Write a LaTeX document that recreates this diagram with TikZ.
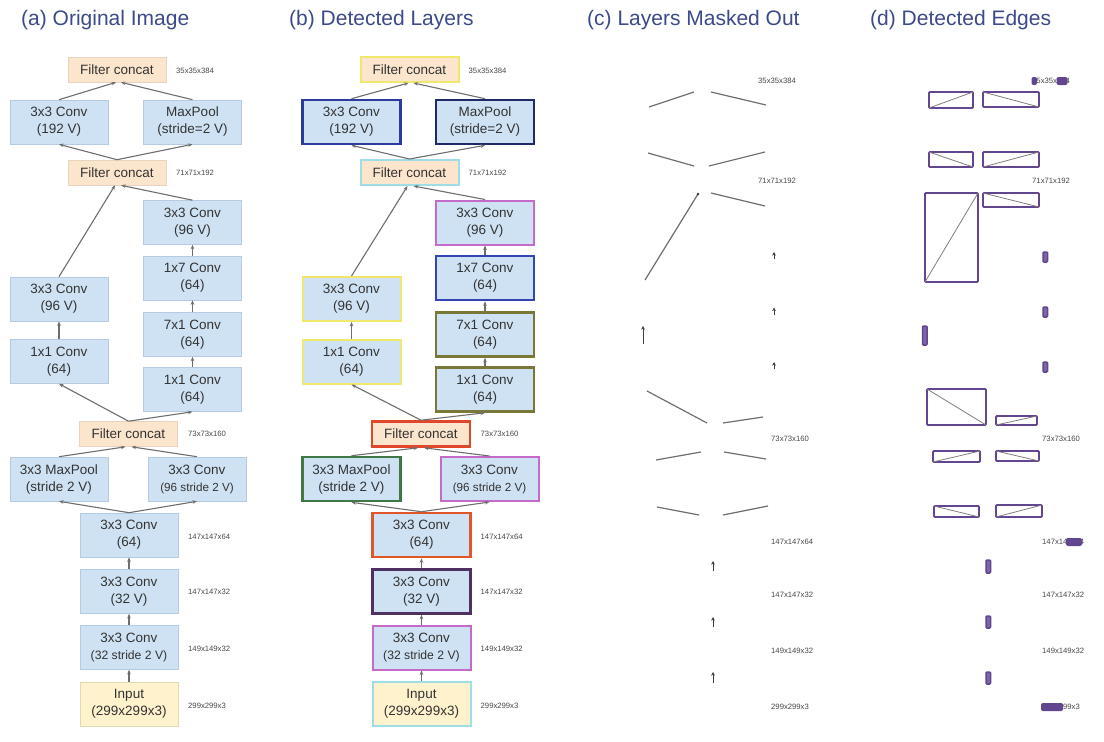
\documentclass[tikz,border=0pt]{standalone}
\usepackage{fontspec}
\setmainfont{Liberation Sans}
\usetikzlibrary{arrows.meta}
\definecolor{titlec}{HTML}{3C4A8A}
\definecolor{txt}{HTML}{333333}
\definecolor{convfill}{HTML}{CFE2F3}
\definecolor{convdraw}{HTML}{B5CBE2}
\definecolor{catfill}{HTML}{FCE5CD}
\definecolor{catdraw}{HTML}{E8D3BC}
\definecolor{inpfill}{HTML}{FFF2CC}
\definecolor{inpdraw}{HTML}{E2D9B5}
\definecolor{edgec}{HTML}{6E6E6E}
\definecolor{labc}{HTML}{484848}
\definecolor{purp}{HTML}{62468F}
\definecolor{purpfill}{HTML}{7D66A8}
\definecolor{diagc}{HTML}{857A80}
\definecolor{bY}{HTML}{F0E86A}
\definecolor{bBlue}{HTML}{2C3B9C}
\definecolor{bNavy}{HTML}{1F2A66}
\definecolor{bCyan}{HTML}{9EDCE6}
\definecolor{bMag}{HTML}{C46AC8}
\definecolor{bBlueB}{HTML}{3444B2}
\definecolor{bOlive}{HTML}{7A7838}
\definecolor{bRed}{HTML}{E0472A}
\definecolor{bGreen}{HTML}{3F7844}
\definecolor{bOrange}{HTML}{E0562A}
\definecolor{bPurp}{HTML}{4F3062}
\tikzset{
  cv/.style={rectangle, minimum width=98pt, minimum height=44pt, inner sep=0pt,
    align=center, font=\fontsize{13.5}{17}\selectfont, text=txt,
    fill=convfill, draw=convdraw, line width=0.6pt},
  cat/.style={cv, minimum height=25pt, fill=catfill, draw=catdraw},
  inpbox/.style={cv, fill=inpfill, draw=inpdraw},
  edge/.style={draw=edgec, line width=1.1pt, -{Stealth[length=4.5pt,width=3.6pt]}},
  lab/.style={anchor=west, font=\fontsize{7.7}{9}\selectfont, text=labc, inner sep=0pt},
  ttl/.style={anchor=base west, font=\fontsize{21}{25}\selectfont, text=titlec, inner sep=0pt},
  mline/.style={draw=edgec, line width=1.2pt},
  marr/.style={draw=black!75, line width=0.9pt, -{Stealth[length=3.6pt,width=3.6pt]}},
  prect/.style={draw=purp, line width=1.8pt, rounded corners=1pt},
  pdiag/.style={draw=diagc, line width=0.8pt},
  psmall/.style={draw=purp, fill=purpfill, line width=1.5pt, rounded corners=1pt},
  blob/.style={fill=purp, rounded corners=2pt},
  s-fcT/.style={}, s-c192/.style={}, s-mp/.style={}, s-fcM/.style={},
  s-c96R/.style={}, s-c17/.style={}, s-c71/.style={}, s-c11R/.style={},
  s-c96L/.style={}, s-c11L/.style={}, s-fcL/.style={}, s-mp3/.style={},
  s-c96s/.style={}, s-c64/.style={}, s-c32/.style={}, s-c32s/.style={},
  s-inp/.style={}
}
\newcommand{\drawnet}[1]{%
  \node[cat, s-fcT] (#1fcT) at (117,69.5) {Filter concat};
  \node[cv, s-c192] (#1c192) at (59,122) {3x3 Conv\\(192 V)};
  \node[cv, s-mp] (#1mp) at (192.5,122) {MaxPool\\(stride=2 V)};
  \node[cat, s-fcM] (#1fcM) at (117,172.5) {Filter concat};
  \node[cv, s-c96R] (#1c96R) at (192.5,222.5) {3x3 Conv\\(96 V)};
  \node[cv, s-c17] (#1c17) at (192.5,278) {1x7 Conv\\(64)};
  \node[cv, s-c71] (#1c71) at (192.5,334.5) {7x1 Conv\\(64)};
  \node[cv, s-c11R] (#1c11R) at (192.5,389.5) {1x1 Conv\\(64)};
  \node[cv, s-c96L] (#1c96L) at (59,299) {3x3 Conv\\(96 V)};
  \node[cv, s-c11L] (#1c11L) at (59,361.5) {1x1 Conv\\(64)};
  \node[cat, s-fcL] (#1fcL) at (128.5,434) {Filter concat};
  \node[cv, s-mp3] (#1mp3) at (59,479) {3x3 MaxPool\\(stride 2 V)};
  \node[cv, s-c96s] (#1c96s) at (197,479) {3x3 Conv\\{\fontsize{11.7}{14}\selectfont(96 stride 2 V)}};
  \node[cv, s-c64] (#1c64) at (129,535) {3x3 Conv\\(64)};
  \node[cv, s-c32] (#1c32) at (129,591.5) {3x3 Conv\\(32 V)};
  \node[cv, s-c32s] (#1c32s) at (129,647.5) {3x3 Conv\\{\fontsize{12.2}{14}\selectfont(32 stride 2 V)}};
  \node[inpbox, s-inp] (#1inp) at (129,704) {Input\\(299x299x3)};
  \draw[edge] (#1c192.north) -- ([xshift=-1]#1fcT.south);
  \draw[edge] (#1mp.north) -- ([xshift=4]#1fcT.south);
  \draw[edge] (#1fcM.north) -- (#1c192.south);
  \draw[edge] (#1fcM.north) -- (#1mp.south);
  \draw[edge] (#1c96L.north) -- ([xshift=-2]#1fcM.south);
  \draw[edge] (#1c96R.north) -- ([xshift=4]#1fcM.south);
  \draw[edge] (#1c11L.north) -- (#1c96L.south);
  \draw[edge] (#1c11R.north) -- (#1c71.south);
  \draw[edge] (#1c71.north) -- (#1c17.south);
  \draw[edge] (#1c17.north) -- (#1c96R.south);
  \draw[edge] (#1fcL.north) -- (#1c11L.south);
  \draw[edge] (#1fcL.north) -- (#1c11R.south);
  \draw[edge] (#1mp3.north) -- ([xshift=-3]#1fcL.south);
  \draw[edge] (#1c96s.north) -- ([xshift=3]#1fcL.south);
  \draw[edge] (#1c64.north) -- (#1mp3.south);
  \draw[edge] (#1c64.north) -- (#1c96s.south);
  \draw[edge] (#1c32.north) -- (#1c64.south);
  \draw[edge] (#1c32s.north) -- (#1c32.south);
  \draw[edge] (#1inp.north) -- (#1c32s.south);
  \node[lab] (#1l1) at (176,71) {35x35x384};
  \node[lab] (#1l2) at (176,173) {71x71x192};
  \node[lab] (#1l3) at (188,434) {73x73x160};
  \node[lab] (#1l4) at (188,537) {147x147x64};
  \node[lab] (#1l5) at (188,592) {147x147x32};
  \node[lab] (#1l6) at (188,649) {149x149x32};
  \node[lab] (#1l7) at (188,705.5) {299x299x3};
}
\begin{document}
\begin{tikzpicture}[x=1pt,y=-1pt]
\useasboundingbox[fill=white] (0,0) rectangle (1104,742);
% titles
\node[ttl] (ta) at (21,25.5) {(a) Original Image};
\node[ttl] (tb) at (289,25.5) {(b) Detected Layers};
\node[ttl] (tc) at (587,25.5) {(c) Layers Masked Out};
\node[ttl] (td) at (870,25.5) {(d) Detected Edges};
% panel (a)
\begin{scope}
\drawnet{a}
\end{scope}
% panel (b)
\begin{scope}[xshift=292.5,
  s-fcT/.style={draw=bY, line width=2pt},
  s-c192/.style={draw=bBlue, line width=2.6pt},
  s-mp/.style={draw=bNavy, line width=2.6pt},
  s-fcM/.style={draw=bCyan, line width=2pt},
  s-c96R/.style={draw=bMag, line width=2pt},
  s-c17/.style={draw=bBlueB, line width=2.6pt},
  s-c71/.style={draw=bOlive, line width=2.6pt},
  s-c11R/.style={draw=bOlive, line width=2.6pt},
  s-c96L/.style={draw=bY, line width=2pt},
  s-c11L/.style={draw=bY, line width=2pt},
  s-fcL/.style={draw=bRed, line width=2.6pt},
  s-mp3/.style={draw=bGreen, line width=2.6pt},
  s-c96s/.style={draw=bMag, line width=2pt},
  s-c64/.style={draw=bOrange, line width=2.6pt},
  s-c32/.style={draw=bPurp, line width=2.6pt},
  s-c32s/.style={draw=bMag, line width=2pt},
  s-inp/.style={draw=bCyan, line width=2pt}]
\drawnet{b}
\end{scope}
% panel (c): edges only
\draw[mline] (649,107) -- (694,92);
\draw[mline] (711,92) -- (766,105);
\draw[mline] (648,153) -- (694,166);
\draw[mline] (709,166) -- (765,152);
\draw[mline] (645,280) -- (698,194);
\fill[black!80] (698,194) circle (1.4);
\draw[mline] (711,193) -- (765,206);
\draw[marr] (774,259) -- (774,252);
\draw[marr] (774,315) -- (774,307.5);
\draw[marr] (774,369) -- (774,362);
\draw[marr] (643,344) -- (643,326);
\draw[mline] (647,391) -- (707,423);
\draw[mline] (723,423) -- (763,417);
\draw[mline] (656,460) -- (701,452);
\draw[mline] (724,452) -- (766,459);
\draw[mline] (657,507) -- (699,515);
\draw[mline] (723,515) -- (768,506);
\draw[marr] (713,571) -- (713,561);
\draw[marr] (713,627) -- (713,617);
\draw[marr] (713,683) -- (713,672);
\node[lab] (cl1) at (758,81) {35x35x384};
\node[lab] (cl2) at (758,181) {71x71x192};
\node[lab] (cl3) at (771,439) {73x73x160};
\node[lab] (cl4) at (771,542) {147x147x64};
\node[lab] (cl5) at (771,595) {147x147x32};
\node[lab] (cl6) at (771,651) {149x149x32};
\node[lab] (cl7) at (771,707) {299x299x3};
% panel (d): detected edge boxes
\draw[prect] (929,92) rectangle (973,108); \draw[pdiag] (929,108) -- (973,92);
\draw[prect] (983,92) rectangle (1039,107); \draw[pdiag] (983,92) -- (1039,107);
\draw[prect] (929,152) rectangle (973,167); \draw[pdiag] (929,152) -- (973,167);
\draw[prect] (983,152) rectangle (1039,167); \draw[pdiag] (983,167) -- (1039,152);
\draw[prect] (925,193) rectangle (978,282); \draw[pdiag] (925,282) -- (978,193);
\draw[prect] (983,193) rectangle (1039,207); \draw[pdiag] (983,193) -- (1039,207);
\draw[psmall] (1043,252) rectangle (1047.5,262);
\draw[psmall] (1043,307) rectangle (1047.5,317);
\draw[psmall] (922.5,326) rectangle (927,345);
\draw[psmall] (1043,362) rectangle (1047.5,372);
\draw[prect] (927,389) rectangle (986,425); \draw[pdiag] (927,389) -- (986,425);
\draw[prect] (996,416) rectangle (1037,425); \draw[pdiag] (996,425) -- (1037,416);
\draw[prect] (933,451) rectangle (980,462); \draw[pdiag] (933,462) -- (980,451);
\draw[prect] (996,451) rectangle (1039,461); \draw[pdiag] (996,451) -- (1039,461);
\draw[prect] (934,506) rectangle (979,517); \draw[pdiag] (934,506) -- (979,517);
\draw[prect] (996,505) rectangle (1042,517); \draw[pdiag] (996,517) -- (1042,505);
\draw[psmall] (986,560) rectangle (990.5,573);
\draw[psmall] (986,616) rectangle (990.5,628);
\draw[psmall] (986,672) rectangle (990.5,684);
\node[lab] (dl1) at (1032,81) {35x35x384};
\node[lab] (dl2) at (1032,181) {71x71x192};
\node[lab] (dl3) at (1042,439) {73x73x160};
\node[lab] (dl4) at (1042,542) {147x147x64};
\node[lab] (dl5) at (1042,595) {147x147x32};
\node[lab] (dl6) at (1042,651) {149x149x32};
\node[lab] (dl7) at (1042,707) {299x299x3};
\fill[blob] (1031.5,77) rectangle (1037,85);
\fill[blob] (1056.5,77) rectangle (1067.5,85);
\fill[blob] (1066,538) rectangle (1082,546);
\fill[blob] (1041,703) rectangle (1063,711);
\end{tikzpicture}
\end{document}
